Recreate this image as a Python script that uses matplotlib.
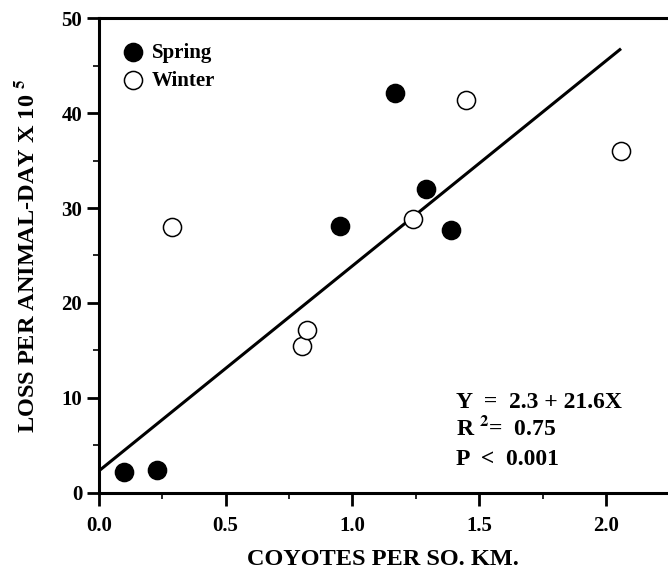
import numpy as np
import matplotlib
matplotlib.use('Agg')
import matplotlib.pyplot as plt
from matplotlib.ticker import MultipleLocator

plt.rcParams['font.family'] = ['Liberation Serif', 'DejaVu Serif']
plt.rcParams['font.weight'] = 'bold'
plt.rcParams['mathtext.fontset'] = 'stix'

# data
spring_x = [0.10, 0.23, 0.95, 1.17, 1.29, 1.39]
spring_y = [2.2, 2.4, 28.1, 42.1, 32.0, 27.7]
winter_x = [0.29, 0.80, 0.82, 1.24, 1.45, 2.06]
winter_y = [28.0, 15.5, 17.1, 28.8, 41.4, 36.0]

intercept = 2.3
slope = 21.6
fit_x = [0.0, 2.055]

fig = plt.figure(figsize=(6.68, 5.69), dpi=100)
ax = fig.add_axes([0.148, 0.134, 0.852, 0.834])

xf = np.array(fit_x)
ax.plot(xf, intercept + slope * xf, color='black', lw=2.2, zorder=1)
ax.scatter(spring_x, spring_y, s=170, c='black', edgecolors='black',
           linewidths=1.1, zorder=3, label='Spring')
ax.scatter(winter_x, winter_y, s=170, c='white', edgecolors='black',
           linewidths=1.1, zorder=3, label='Winter')

ax.set_xlim(0, 2.245)
ax.set_ylim(0, 50)
ax.xaxis.set_major_locator(MultipleLocator(0.5))
ax.xaxis.set_minor_locator(MultipleLocator(0.25))
ax.yaxis.set_major_locator(MultipleLocator(10))
ax.yaxis.set_minor_locator(MultipleLocator(5))
ax.xaxis.set_major_formatter(plt.FuncFormatter(lambda v, p: f'{v:.1f}'))
ax.tick_params(which='major', direction='out', length=9, width=2.0,
               labelsize=15, pad=8)
ax.tick_params(axis='y', which='major', pad=3)
ax.tick_params(which='minor', direction='out', length=4.5, width=1.2)
for lab in ax.get_xticklabels() + ax.get_yticklabels():
    lab.set_fontweight('bold')

for s in ['left', 'bottom', 'top']:
    ax.spines[s].set_linewidth(2.2)
ax.spines['right'].set_visible(False)

ax.set_xlabel('COYOTES PER SO. KM.', fontsize=17.5, fontweight='bold', labelpad=9)
ax.set_ylabel(r'LOSS PER ANIMAL-DAY X 10 $^{\mathbf{5}}$', fontsize=17.5,
              fontweight='bold', labelpad=16)

leg = ax.legend(loc='upper left', frameon=False, fontsize=15,
                handlelength=1.0, handletextpad=0.4, borderpad=0,
                borderaxespad=0, labelspacing=0.38, scatterpoints=1,
                bbox_to_anchor=(0.042, 0.948))
for t in leg.get_texts():
    t.set_fontweight('bold')

ax.text(1.41, 8.95, 'Y  =  2.3 + 21.6X', fontsize=17, fontweight='bold',
        va='baseline')
ax.text(1.41, 6.1, r'R $^{\mathbf{2}}$=  0.75', fontsize=17, fontweight='bold',
        va='baseline')
ax.text(1.41, 2.95, 'P  <  0.001', fontsize=17, fontweight='bold',
        va='baseline')

fig.savefig('out.png', dpi=100)
